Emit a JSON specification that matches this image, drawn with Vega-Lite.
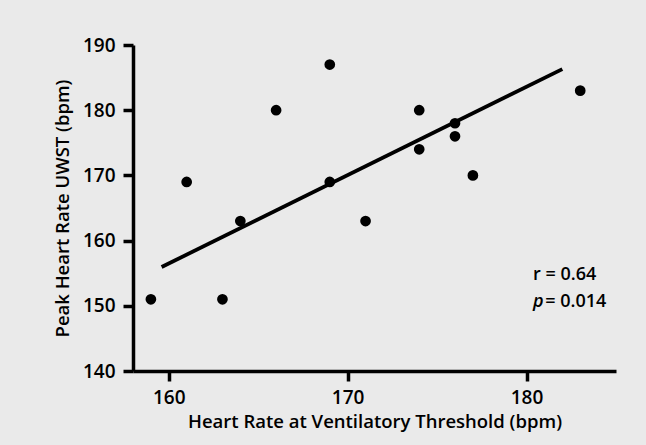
{
  "$schema": "https://vega.github.io/schema/vega-lite/v6.json",
  "autosize": "none",
  "width": 483,
  "height": 326,
  "padding": {"left": 133, "top": 45, "right": 30, "bottom": 74},
  "background": "#eaeaea",
  "config": {
    "view": {"stroke": null},
    "font": "Open Sans",
    "axis": {
      "domainColor": "black",
      "domainWidth": 3.5,
      "tickColor": "black",
      "tickWidth": 3.5,
      "tickSize": 10,
      "grid": false,
      "labelColor": "black",
      "labelFont": "Open Sans",
      "labelFontSize": 19,
      "labelFontWeight": 600,
      "titleFont": "Open Sans",
      "titleFontSize": 18.5,
      "titleFontWeight": 600,
      "titleColor": "black"
    }
  },
  "datasets": {
    "points": [
      {"hr_vt": 159, "peak_hr": 151},
      {"hr_vt": 161, "peak_hr": 169},
      {"hr_vt": 163, "peak_hr": 151},
      {"hr_vt": 164, "peak_hr": 163},
      {"hr_vt": 166, "peak_hr": 180},
      {"hr_vt": 169, "peak_hr": 187},
      {"hr_vt": 169, "peak_hr": 169},
      {"hr_vt": 171, "peak_hr": 163},
      {"hr_vt": 174, "peak_hr": 180},
      {"hr_vt": 174, "peak_hr": 174},
      {"hr_vt": 176, "peak_hr": 178},
      {"hr_vt": 176, "peak_hr": 176},
      {"hr_vt": 177, "peak_hr": 170},
      {"hr_vt": 183, "peak_hr": 183}
    ],
    "fit": [
      {"hr_vt": 159.6, "peak_hr": 155.95},
      {"hr_vt": 182.0, "peak_hr": 186.3}
    ],
    "stats": [
      {"hr_vt": 180.36, "peak_hr": 154.7, "label": "r = 0.64"},
      {"hr_vt": 181.05, "peak_hr": 150.6, "label": "= 0.014"}
    ],
    "pvar": [
      {"hr_vt": 180.36, "peak_hr": 150.6, "label": "p"}
    ]
  },
  "encoding": {
    "x": {
      "field": "hr_vt",
      "type": "quantitative",
      "scale": {"domain": [158, 185], "nice": false, "zero": false},
      "axis": {
        "title": "Heart Rate at Ventilatory Threshold (bpm)",
        "values": [160, 170, 180],
        "labelPadding": 7,
        "titlePadding": 5
      }
    },
    "y": {
      "field": "peak_hr",
      "type": "quantitative",
      "scale": {"domain": [140, 190], "nice": false, "zero": false},
      "axis": {
        "title": "Peak Heart Rate UWST (bpm)",
        "values": [140, 150, 160, 170, 180, 190],
        "labelPadding": 8,
        "titlePadding": 10
      }
    }
  },
  "layer": [
    {
      "data": {"name": "fit"},
      "mark": {"type": "line", "color": "black", "strokeWidth": 3.8, "strokeCap": "butt"}
    },
    {
      "data": {"name": "points"},
      "mark": {"type": "circle", "color": "black", "opacity": 1, "size": 115}
    },
    {
      "data": {"name": "stats"},
      "mark": {"type": "text", "align": "left", "baseline": "middle", "fontSize": 18, "fontWeight": 600, "color": "black"},
      "encoding": {"text": {"field": "label"}}
    },
    {
      "data": {"name": "pvar"},
      "mark": {"type": "text", "align": "left", "baseline": "middle", "fontSize": 18, "fontWeight": 600, "fontStyle": "italic", "color": "black"},
      "encoding": {"text": {"field": "label"}}
    }
  ]
}
